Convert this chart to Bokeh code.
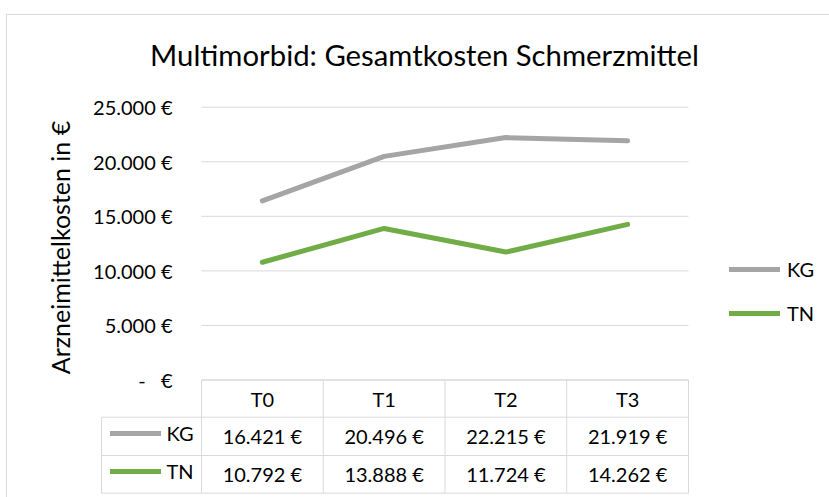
from bokeh.plotting import figure
from bokeh.models import (FactorRange, Range1d, FixedTicker, Label, Legend, LegendItem,
                          ColumnDataSource)
from bokeh.core.properties import value
from bokeh.embed import file_html
from bokeh.resources import INLINE

# ---- data ----
categories = ["T0", "T1", "T2", "T3"]
kg_values = [16421, 20496, 22215, 21919]
tn_values = [10792, 13888, 11724, 14262]
series_names = ["KG", "TN"]
y_ticks = [0, 5000, 10000, 15000, 20000, 25000]
y_tick_labels = ["-\u00a0\u00a0\u00a0€", "5.000 €", "10.000 €", "15.000 €", "20.000 €", "25.000 €"]
title_text = "Multimorbid: Gesamtkosten Schmerzmittel"
y_label_text = "Arzneimittelkosten in €"

# ---- style ----
FONT = "Lato"
GRID = "#d9d9d9"
KG_COLOR = "#a5a5a5"
TN_COLOR = "#70ad47"
TXT = "#000000"
FS = "20px"

W, H = 829, 497
row_bounds = [0, -3409, -6919, -10374]   # table rows below the plot (data units)
key_left = -0.8214                      # left edge of the table's key column
tick_label_x = -0.238                   # right edge of the value labels


def fmt(v):
    return f"{v:,}".replace(",", ".") + " €"


border_css = ("linear-gradient(#d9d9d9,#d9d9d9) 6px 14px / 1px 100% no-repeat, "
              "linear-gradient(#d9d9d9,#d9d9d9) 6px 14px / 100% 1px no-repeat, white")

p = figure(width=W, height=H, output_backend="svg", toolbar_location=None,
           x_range=FactorRange(factors=categories, range_padding=1.0431,
                               range_padding_units="absolute"),
           y_range=Range1d(-10493, 34778),
           x_axis_location=None,
           min_border_left=74, min_border_right=14, min_border_top=0, min_border_bottom=3,
           styles={"background": border_css})
p.title.visible = False
p.outline_line_color = None
p.background_fill_color = None
p.border_fill_color = None
p.xgrid.visible = False
p.ygrid.visible = False

# y axis only carries its title
ax = p.yaxis[0]
ax.ticker = FixedTicker(ticks=[])
ax.axis_line_color = None
ax.major_tick_line_color = None
ax.minor_tick_line_color = None
ax.major_tick_out = 0
ax.major_label_text_font_size = "0px"
ax.axis_label = y_label_text
ax.axis_label_standoff = 0
ax.axis_label_text_font = FONT
ax.axis_label_text_font_size = "25px"
ax.axis_label_text_font_style = "normal"
ax.axis_label_text_color = TXT

ncol = len(categories)

# gridlines + value labels
p.segment(x0=[0] * len(y_ticks), x1=[ncol] * len(y_ticks), y0=y_ticks, y1=y_ticks,
          line_color=GRID, line_width=1)
p.text(x=[tick_label_x] * len(y_ticks), y=y_ticks, text=y_tick_labels,
       text_font=value(FONT), text_font_size=FS, text_color=TXT,
       text_align="right", text_baseline="middle")

src = ColumnDataSource(dict(x=categories, kg=kg_values, tn=tn_values))
r_kg = p.line("x", "kg", source=src, line_color=KG_COLOR, line_width=5,
              line_cap="round", line_join="round")
r_tn = p.line("x", "tn", source=src, line_color=TN_COLOR, line_width=5,
              line_cap="round", line_join="round")

# ---- data table ----
p.segment(x0=list(range(ncol + 1)), x1=list(range(ncol + 1)),
          y0=[row_bounds[0]] * (ncol + 1), y1=[row_bounds[-1]] * (ncol + 1),
          line_color=GRID, line_width=1)
p.segment(x0=[0] * len(row_bounds), x1=[ncol] * len(row_bounds),
          y0=row_bounds, y1=row_bounds, line_color=GRID, line_width=1)
p.quad(left=[key_left] * 2, right=[0] * 2, top=row_bounds[1:3], bottom=row_bounds[2:4],
       fill_alpha=0, line_color=GRID, line_width=1)

centers = [(row_bounds[i] + row_bounds[i + 1]) / 2 for i in range(3)]
rows_text = [categories, [fmt(v) for v in kg_values], [fmt(v) for v in tn_values]]
for c, texts in zip(centers, rows_text):
    p.text(x=categories, y=[c] * ncol, text=texts,
           text_font=value(FONT), text_font_size=FS, text_color=TXT,
           text_align="center", text_baseline="middle")


def make_legend(loc, gw, spacing, standoff):
    return Legend(items=[LegendItem(label=series_names[0], renderers=[r_kg]),
                         LegendItem(label=series_names[1], renderers=[r_tn])],
                  location=loc, orientation="vertical",
                  glyph_width=gw, glyph_height=26, label_height=26, spacing=spacing,
                  label_standoff=standoff, padding=0, margin=0,
                  border_line_color=None, background_fill_alpha=0,
                  label_text_font=FONT, label_text_font_size=FS, label_text_color=TXT)


p.add_layout(make_legend((655, 168), 51, 18, 7))       # legend on the right
p.add_layout(make_legend((35.5, 10), 51, 12, 6))       # keys of the data table

p.add_layout(Label(x=424, y=54, x_units="canvas", y_units="canvas", text=title_text,
                   text_align="center", text_baseline="middle",
                   text_font=FONT, text_font_size="29.3px", text_color=TXT))

open("out.html", "w").write(file_html(p, INLINE))
